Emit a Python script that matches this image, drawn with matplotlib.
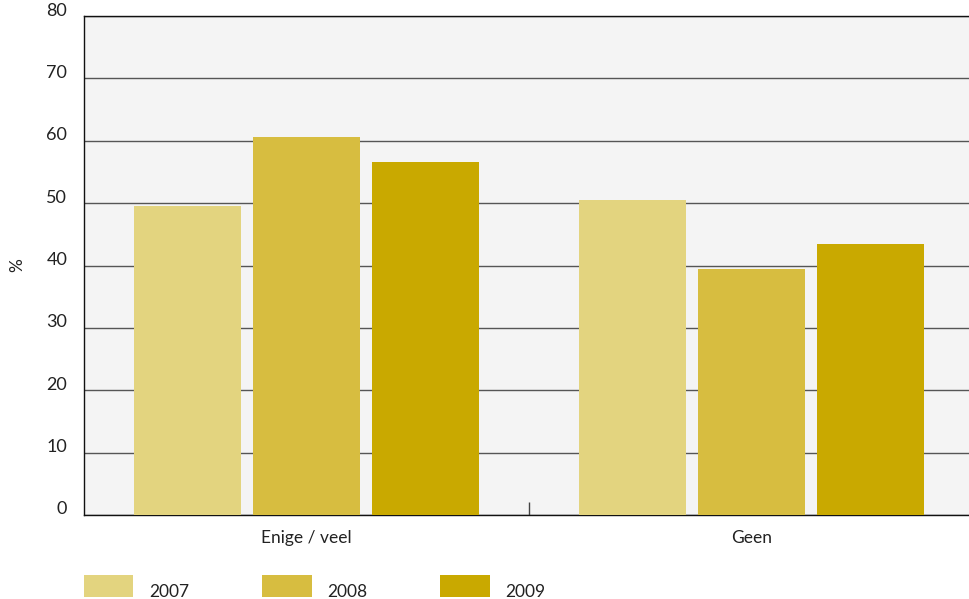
import matplotlib.pyplot as plt
from matplotlib.transforms import ScaledTranslation
import numpy as np

plt.rcParams['font.family'] = ['Lato', 'DejaVu Sans']

categories = ['Enige / veel', 'Geen']
years = ['2007', '2008', '2009']
values = {
    '2007': [49.5, 50.5],
    '2008': [60.6, 39.4],
    '2009': [56.6, 43.4],
}
colors = ['#e3d47f', '#d7bd40', '#c9a900']

fig = plt.figure(figsize=(9.69, 5.99), dpi=100)
ax = fig.add_axes([84 / 969, 84 / 599, 890 / 969, 499 / 599])
ax.set_facecolor('#f4f4f4')

x = np.arange(len(categories))
width = 0.24
step = 0.267
for i, (yr, col) in enumerate(zip(years, colors)):
    ax.bar(x + (i - 1) * step, values[yr], width, color=col, label=yr, zorder=3)

ax.set_xlim(-0.5, 1.5)
ax.set_ylim(0, 80)
ax.set_yticks(range(0, 81, 10))
ax.yaxis.grid(True, color='#555555', linewidth=1)
ax.set_axisbelow(True)
ax.tick_params(axis='y', length=0, pad=12, labelsize=13, labelcolor='#222222')
for lab in ax.get_yticklabels():
    lab.set_transform(lab.get_transform() + ScaledTranslation(0, 0.07, fig.dpi_scale_trans))

ax.set_xticks(x)
ax.set_xticklabels(categories)
ax.tick_params(axis='x', which='major', length=0, pad=11, labelsize=12.5, labelcolor='#222222')
ax.set_xticks([0.5], minor=True)
ax.tick_params(axis='x', which='minor', direction='in', length=9.5, width=1, color='#444444')

for s in ['top', 'left', 'bottom']:
    ax.spines[s].set_color('#111111')
    ax.spines[s].set_linewidth(1)
ax.spines['right'].set_visible(False)

ax.set_ylabel('%', fontsize=12.5, color='#222222', labelpad=15)

leg = fig.legend(loc='lower left', bbox_to_anchor=(84 / 969, 0.004), ncol=3, frameon=False,
                 fontsize=12.5, handlelength=2.85, handleheight=1.5, handletextpad=0.9,
                 columnspacing=4.2, borderpad=0, borderaxespad=0)
for t in leg.get_texts():
    t.set_color('#222222')
    t.set_transform(t.get_transform() + ScaledTranslation(0, -0.05, fig.dpi_scale_trans))

fig.savefig('out.png', dpi=100)
